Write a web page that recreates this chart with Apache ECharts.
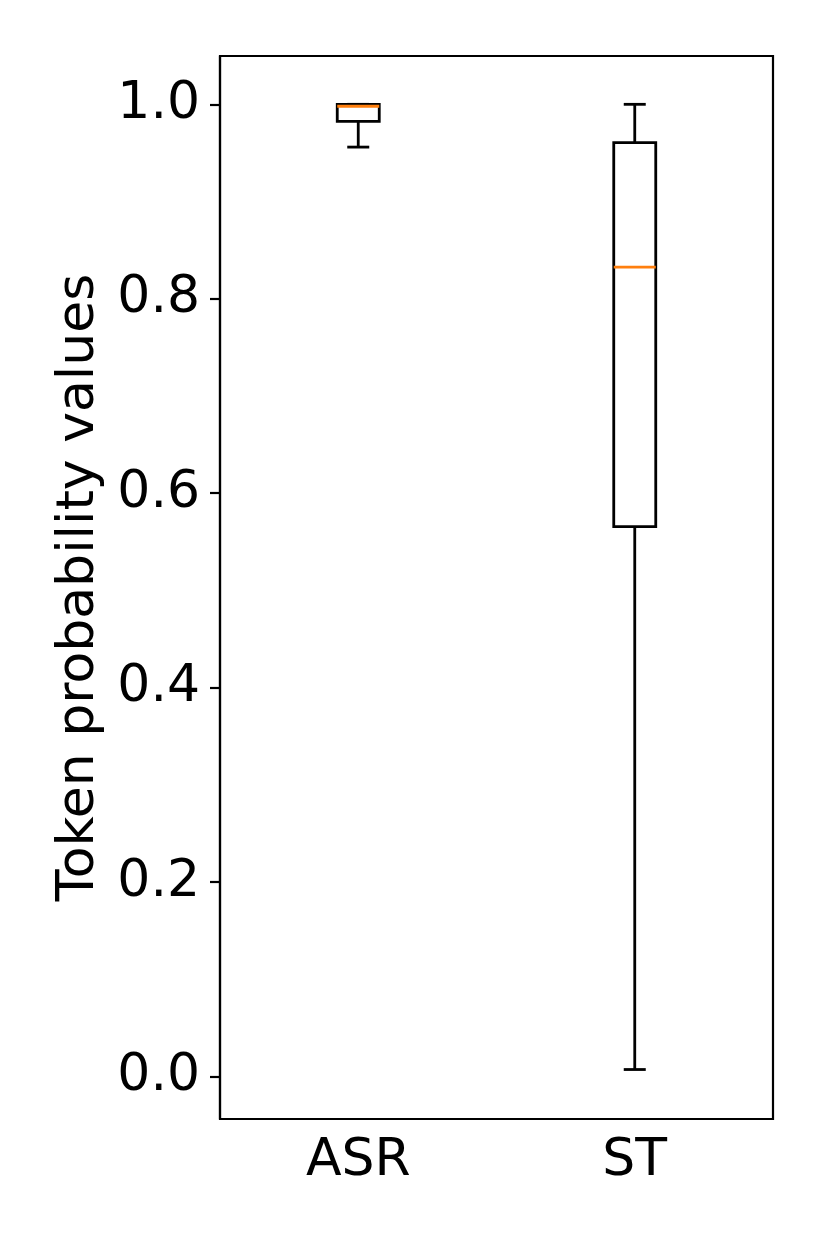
<!DOCTYPE html>
<html>
<head>
<meta charset="utf-8">
<script src="https://cdn.jsdelivr.net/npm/echarts@6/dist/echarts.min.js"></script>
<style>
  html, body { margin: 0; padding: 0; background: #fff; }
  #chart { width: 830px; height: 1246px; }
</style>
</head>
<body>
<div id="chart"></div>
<script>
// categories
const categories = ['ASR', 'ST'];
// box stats per category: [low whisker, q1, median, q3, high whisker]
const asrStats = [0.956, 0.9825, 0.998, 1.0, 1.0];
const stStats = [0.0072, 0.5657, 0.8326, 0.9606, 1.0];
// y tick labels
const yTicks = [0, 0.2, 0.4, 0.6, 0.8, 1.0];

const boxData = [asrStats, stStats].map((s, i) => [i].concat(s));

const chart = echarts.init(document.getElementById('chart'));
const font = 'DejaVu Sans';

function renderBox(params, api) {
  const idx = api.value(0);
  const pt = k => api.coord([idx, api.value(k)]);
  const lo = pt(1), q1 = pt(2), med = pt(3), q3 = pt(4), hi = pt(5);
  const cx = lo[0];
  const hw = 21, cw = 11;
  const ln = { stroke: '#000', lineWidth: 2.8 };
  return {
    type: 'group',
    children: [
      { type: 'line', shape: { x1: cx, y1: lo[1], x2: cx, y2: q1[1] }, style: ln },
      { type: 'line', shape: { x1: cx, y1: q3[1], x2: cx, y2: hi[1] }, style: ln },
      { type: 'line', shape: { x1: cx - cw, y1: lo[1], x2: cx + cw, y2: lo[1] }, style: ln },
      { type: 'line', shape: { x1: cx - cw, y1: hi[1], x2: cx + cw, y2: hi[1] }, style: ln },
      { type: 'rect', shape: { x: cx - hw, y: q3[1], width: 2 * hw, height: q1[1] - q3[1] },
        style: { fill: 'none', stroke: '#000', lineWidth: 2.8 } },
      { type: 'line', shape: { x1: cx - hw, y1: med[1], x2: cx + hw, y2: med[1] },
        style: { stroke: '#ff7f0e', lineWidth: 2.8 } }
    ]
  };
}

chart.setOption({
  animation: false,
  grid: {
    left: 220, top: 56, right: 57, bottom: 127,
    show: true, borderColor: '#000', borderWidth: 2.2, backgroundColor: 'transparent'
  },
  xAxis: {
    type: 'category',
    data: categories,
    boundaryGap: true,
    axisLine: { onZero: false, lineStyle: { color: '#000', width: 2.2 } },
    axisTick: { alignWithLabel: true, length: 10, lineStyle: { color: '#000', width: 2.2 } },
    axisLabel: { color: '#000', fontSize: 52, fontFamily: font, margin: 16 },
    splitLine: { show: false }
  },
  yAxis: {
    type: 'value',
    min: -0.0437,
    max: 1.0497,
    name: 'Token probability values',
    nameLocation: 'middle',
    nameGap: 115,
    nameTextStyle: { color: '#000', fontSize: 52, fontFamily: font },
    axisLine: { show: true, lineStyle: { color: '#000', width: 2.2 } },
    axisTick: { show: true, length: 10, customValues: yTicks, lineStyle: { color: '#000', width: 2.2 } },
    axisLabel: {
      color: '#000', fontSize: 52, fontFamily: font, margin: 20,
      customValues: yTicks,
      formatter: v => v.toFixed(1)
    },
    splitLine: { show: false }
  },
  series: [{
    type: 'custom',
    renderItem: renderBox,
    encode: { x: 0, y: [1, 2, 3, 4, 5] },
    data: boxData
  }]
});
</script>
</body>
</html>
